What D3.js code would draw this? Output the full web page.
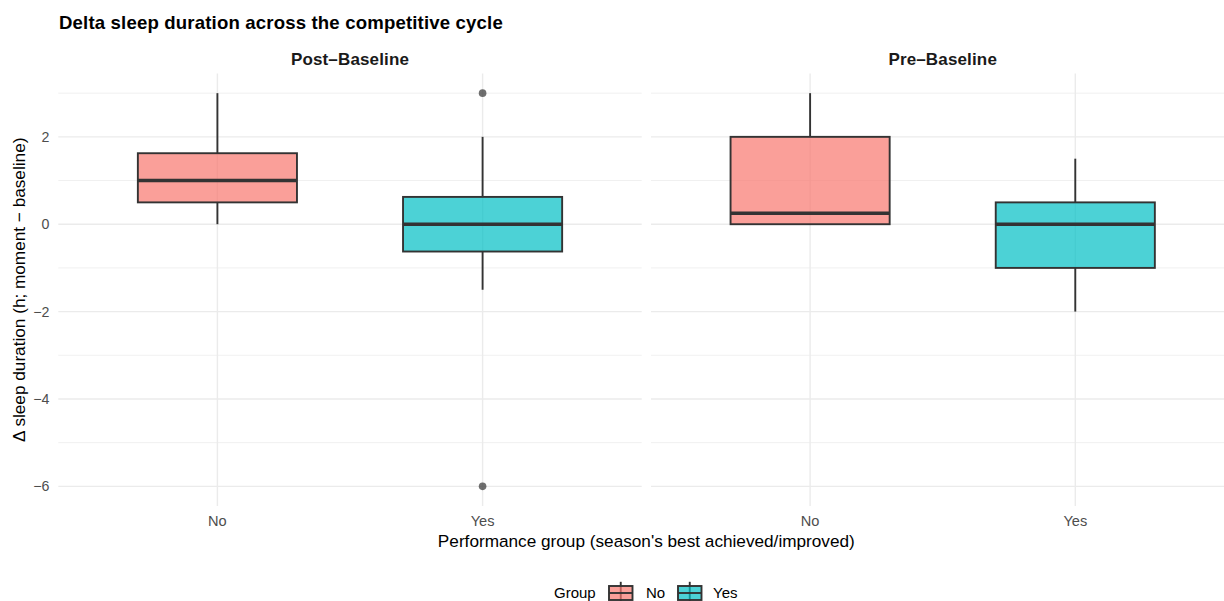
<!DOCTYPE html>
<html>
<head>
<meta charset="utf-8">
<script src="https://cdn.jsdelivr.net/npm/d3@7"></script>
<style>
  html, body { margin: 0; padding: 0; background: #ffffff; }
  svg { display: block; font-family: "Liberation Sans", Arial, Helvetica, sans-serif; }
</style>
</head>
<body>
<svg id="chart" width="1224" height="601"></svg>
<script>
// Facets, groups and box statistics (hours, moment − baseline)
const facets = ["Post\u2013Baseline", "Pre\u2013Baseline"];
const groups = ["No", "Yes"];
const groupColors = ["#F8766D", "#00BFC4"];
const whiskerLow  = [[0, -1.5], [0, -2]];
const q1          = [[0.5, -0.625], [0, -1]];
const median      = [[1, 0], [0.25, 0]];
const q3          = [[1.625, 0.625], [2, 0.5]];
const whiskerHigh = [[3, 2], [3, 1.5]];
const outliers    = [[[], [3, -6]], [[], []]];
const yTicks = [-6, -4, -2, 0, 2];
const yMinor = [-5, -3, -1, 1, 3];

const svg = d3.select("#chart");

const panelTop = 73.5, panelBottom = 506;
const panelWidth = 583.4, panelGap = 9.3;
const panelLeft0 = 58.3;

const y = d3.scaleLinear().domain([-6.45, 3.45]).range([panelBottom, panelTop]);

const gridCol = "#EBEBEB";
const lineCol = "#333333";

// Title
svg.append("text")
  .attr("x", 59).attr("y", 28.5)
  .attr("font-size", 18.6).attr("font-weight", "bold").attr("fill", "#000")
  .attr("letter-spacing", 0.16)
  .text("Delta sleep duration across the competitive cycle");

facets.forEach((facet, fi) => {
  const left = panelLeft0 + fi * (panelWidth + panelGap);
  const x = d3.scalePoint().domain(groups).range([left, left + panelWidth]).padding(0.6);
  const step = x.step();
  const g = svg.append("g");

  // minor horizontal grid
  g.selectAll(".minor").data(yMinor).join("line")
    .attr("x1", left).attr("x2", left + panelWidth)
    .attr("y1", d => y(d)).attr("y2", d => y(d))
    .attr("stroke", gridCol).attr("stroke-width", 0.75);
  // major horizontal grid
  g.selectAll(".major").data(yTicks).join("line")
    .attr("x1", left).attr("x2", left + panelWidth)
    .attr("y1", d => y(d)).attr("y2", d => y(d))
    .attr("stroke", gridCol).attr("stroke-width", 1.4);
  // vertical grid at categories
  g.selectAll(".vgrid").data(groups).join("line")
    .attr("x1", d => x(d)).attr("x2", d => x(d))
    .attr("y1", panelTop).attr("y2", panelBottom)
    .attr("stroke", gridCol).attr("stroke-width", 1.4);

  // strip label
  svg.append("text")
    .attr("x", left + panelWidth / 2).attr("y", 64.5)
    .attr("text-anchor", "middle").attr("font-size", 17).attr("font-weight", "bold")
    .attr("letter-spacing", 0.15)
    .attr("fill", "#1A1A1A").text(facet);

  // x tick labels
  g.selectAll(".xt").data(groups).join("text")
    .attr("x", d => x(d)).attr("y", 525.5)
    .attr("text-anchor", "middle").attr("font-size", 14.6).attr("fill", "#4D4D4D")
    .text(d => d);

  groups.forEach((grp, gi) => {
    const cx = x(grp);
    const bw = 0.6 * step;
    // whiskers
    g.append("line")
      .attr("x1", cx).attr("x2", cx)
      .attr("y1", y(q3[fi][gi])).attr("y2", y(whiskerHigh[fi][gi]))
      .attr("stroke", lineCol).attr("stroke-width", 1.9);
    g.append("line")
      .attr("x1", cx).attr("x2", cx)
      .attr("y1", y(q1[fi][gi])).attr("y2", y(whiskerLow[fi][gi]))
      .attr("stroke", lineCol).attr("stroke-width", 1.9);
    // box
    g.append("rect")
      .attr("x", cx - bw / 2).attr("width", bw)
      .attr("y", y(q3[fi][gi])).attr("height", y(q1[fi][gi]) - y(q3[fi][gi]))
      .attr("fill", groupColors[gi]).attr("fill-opacity", 0.7)
      .attr("stroke", lineCol).attr("stroke-width", 1.9);
    // median
    g.append("line")
      .attr("x1", cx - bw / 2).attr("x2", cx + bw / 2)
      .attr("y1", y(median[fi][gi])).attr("y2", y(median[fi][gi]))
      .attr("stroke", lineCol).attr("stroke-width", 3.6);
    // outliers
    g.selectAll(null).data(outliers[fi][gi]).join("circle")
      .attr("cx", cx).attr("cy", d => y(d)).attr("r", 3.8)
      .attr("fill", lineCol).attr("fill-opacity", 0.7);
  });
});

// y tick labels
svg.selectAll(".yt").data(yTicks).join("text")
  .attr("x", 49.5).attr("y", d => y(d)).attr("dy", "0.36em")
  .attr("text-anchor", "end").attr("font-size", 14.2).attr("fill", "#4D4D4D")
  .text(d => d < 0 ? "\u2212" + Math.abs(d) : d);

// axis titles
const plotCenterX = panelLeft0 + panelWidth + panelGap / 2;
svg.append("text")
  .attr("x", plotCenterX).attr("y", 546.5)
  .attr("text-anchor", "middle").attr("font-size", 17.2).attr("fill", "#000")
  .text("Performance group (season's best achieved/improved)");

svg.append("text")
  .attr("transform", `translate(24.5,${(panelTop + panelBottom) / 2}) rotate(-90)`)
  .attr("text-anchor", "middle").attr("font-size", 17.2).attr("fill", "#000")
  .text("\u0394 sleep duration (h; moment \u2212 baseline)");

// legend
const legY = 593;
const lg = svg.append("g");
lg.append("text").attr("x", 554).attr("y", legY).attr("dy", "0.36em")
  .attr("font-size", 15).attr("fill", "#000").text("Group");
const keyX = [609, 678];
const labX = [646, 713];
groups.forEach((grp, gi) => {
  const kx = keyX[gi], kw = 23.5, kh = 28;
  const kc = kx + kw / 2;
  lg.append("line").attr("x1", kc).attr("x2", kc)
    .attr("y1", legY - 0.4 * kh).attr("y2", legY + 0.4 * kh)
    .attr("stroke", lineCol).attr("stroke-width", 1.9);
  lg.append("rect").attr("x", kx).attr("width", kw)
    .attr("y", legY - kh / 4).attr("height", kh / 2)
    .attr("fill", groupColors[gi]).attr("fill-opacity", 0.7)
    .attr("stroke", lineCol).attr("stroke-width", 1.9);
  lg.append("line").attr("x1", kx).attr("x2", kx + kw)
    .attr("y1", legY).attr("y2", legY)
    .attr("stroke", lineCol).attr("stroke-width", 1.9);
  lg.append("text").attr("x", labX[gi]).attr("y", legY).attr("dy", "0.36em")
    .attr("font-size", 15).attr("fill", "#000").text(grp);
});
</script>
</body>
</html>
